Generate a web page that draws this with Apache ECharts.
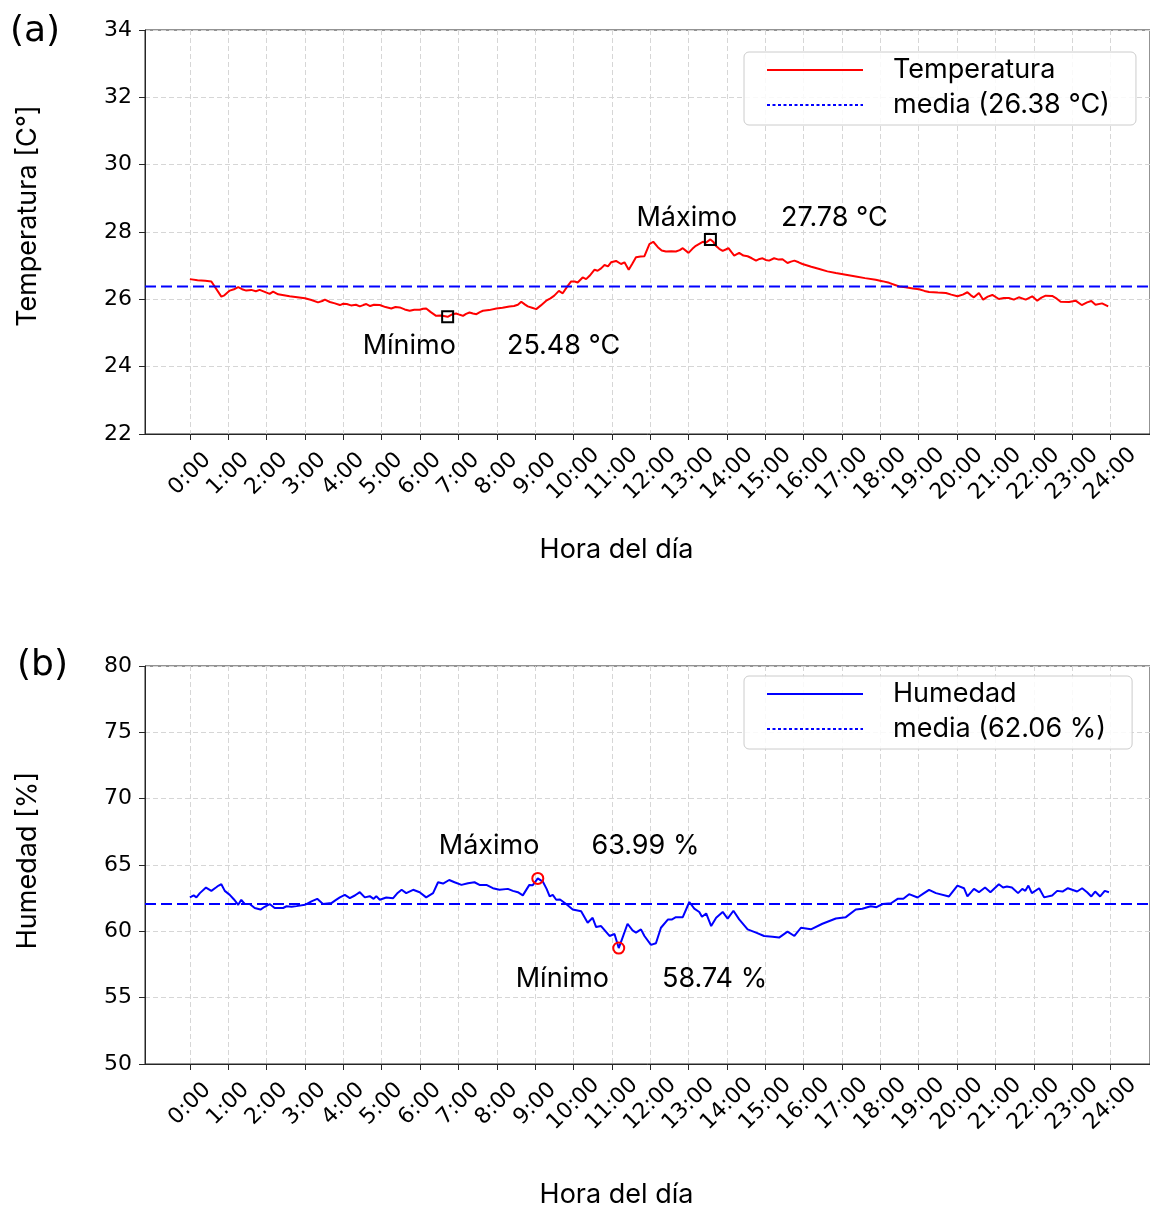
<!DOCTYPE html>
<html>
<head>
<meta charset="utf-8">
<script src="https://cdn.jsdelivr.net/npm/echarts@6/dist/echarts.min.js"></script>
<style>
  html, body { margin: 0; padding: 0; background: #ffffff; }
  #chart { width: 1150px; height: 1209px; }
</style>
</head>
<body>
<div id="chart"></div>
<script>
// Temperature log over one day (hour of day, °C)
const tempHours = [
  0.00, 0.20, 0.40, 0.56, 0.82, 0.90, 1.04, 1.15, 1.26, 1.36, 1.47, 1.60, 1.72, 1.82, 1.95,
  2.08, 2.17, 2.30, 2.45, 2.60, 2.80, 3.00, 3.17, 3.34, 3.45, 3.52, 3.65, 3.78, 3.91, 4.00,
  4.09, 4.20, 4.33, 4.43, 4.52, 4.60, 4.70, 4.80, 4.95, 5.10, 5.25, 5.36, 5.47, 5.60, 5.73,
  5.85, 5.99, 6.08, 6.16, 6.28, 6.42, 6.55, 6.72, 6.85, 6.94, 7.04, 7.12, 7.20, 7.29, 7.38,
  7.47, 7.56, 7.64, 7.80, 7.99, 8.15, 8.33, 8.45, 8.55, 8.64, 8.73, 8.81, 8.92, 9.03, 9.15,
  9.29, 9.40, 9.50, 9.62, 9.72, 9.85, 9.94, 10.03, 10.11, 10.24, 10.33, 10.42, 10.55, 10.63, 10.72,
  10.81, 10.90, 10.98, 11.11, 11.24, 11.33, 11.44, 11.53, 11.63, 11.75, 11.85, 11.98, 12.08, 12.20, 12.30,
  12.41, 12.55, 12.67, 12.77, 12.85, 13.00, 13.10, 13.19, 13.28, 13.37, 13.45, 13.57, 13.65, 13.71, 13.80,
  13.89, 13.97, 14.04, 14.12, 14.19, 14.32, 14.43, 14.54, 14.65, 14.76, 14.85, 14.93, 15.01, 15.10, 15.23,
  15.35, 15.45, 15.58, 15.67, 15.76, 15.87, 15.97, 16.20, 16.41, 16.62, 16.84, 17.10, 17.36, 17.60, 17.88,
  18.05, 18.23, 18.40, 18.49, 18.66, 18.85, 19.01, 19.15, 19.27, 19.50, 19.71, 19.85, 20.01, 20.15, 20.27,
  20.36, 20.44, 20.57, 20.68, 20.80, 20.92, 21.09, 21.22, 21.35, 21.48, 21.61, 21.79, 21.96, 22.09, 22.20,
  22.31, 22.48, 22.60, 22.70, 22.92, 23.09, 23.25, 23.39, 23.50, 23.61, 23.78, 23.94
];
const tempValues = [
  26.60, 26.57, 26.55, 26.53, 26.08, 26.12, 26.26, 26.30, 26.36, 26.30, 26.26, 26.28, 26.24, 26.28, 26.22,
  26.16, 26.23, 26.15, 26.12, 26.09, 26.06, 26.03, 25.98, 25.91, 25.95, 25.99, 25.92, 25.88, 25.83, 25.87,
  25.86, 25.82, 25.84, 25.79, 25.83, 25.86, 25.80, 25.84, 25.83, 25.77, 25.73, 25.77, 25.76, 25.70, 25.66,
  25.69, 25.69, 25.72, 25.73, 25.62, 25.51, 25.52, 25.48, 25.56, 25.58, 25.54, 25.51, 25.57, 25.61, 25.58,
  25.56, 25.62, 25.66, 25.68, 25.73, 25.75, 25.79, 25.80, 25.84, 25.93, 25.85, 25.79, 25.75, 25.71, 25.82,
  25.96, 26.03, 26.11, 26.25, 26.18, 26.40, 26.53, 26.53, 26.50, 26.65, 26.60, 26.70, 26.88, 26.85, 26.92,
  27.02, 26.98, 27.10, 27.14, 27.05, 27.10, 26.88, 27.05, 27.25, 27.27, 27.28, 27.64, 27.71, 27.55, 27.45,
  27.42, 27.43, 27.42, 27.46, 27.52, 27.38, 27.50, 27.59, 27.65, 27.71, 27.68, 27.78, 27.70, 27.59, 27.50,
  27.44, 27.48, 27.52, 27.40, 27.30, 27.38, 27.30, 27.28, 27.22, 27.15, 27.20, 27.22, 27.17, 27.15, 27.22,
  27.18, 27.19, 27.08, 27.12, 27.15, 27.10, 27.05, 26.97, 26.90, 26.83, 26.78, 26.73, 26.68, 26.63, 26.58,
  26.54, 26.49, 26.42, 26.38, 26.36, 26.32, 26.30, 26.25, 26.22, 26.20, 26.19, 26.14, 26.09, 26.14, 26.21,
  26.12, 26.06, 26.19, 25.99, 26.08, 26.13, 26.01, 26.04, 26.04, 25.99, 26.06, 25.99, 26.09, 25.96, 26.05,
  26.11, 26.10, 26.02, 25.93, 25.92, 25.96, 25.83, 25.91, 25.95, 25.84, 25.88, 25.79
];

// Relative humidity over the same day (hour of day, %)
const humHours = [
  0.00, 0.10, 0.17, 0.26, 0.42, 0.56, 0.68, 0.75, 0.82, 0.91, 1.04, 1.15, 1.26, 1.34, 1.43,
  1.56, 1.69, 1.84, 1.95, 2.08, 2.21, 2.43, 2.52, 2.65, 2.78, 3.00, 3.17, 3.32, 3.47, 3.69,
  3.80, 3.91, 4.04, 4.17, 4.30, 4.43, 4.56, 4.69, 4.79, 4.86, 4.95, 5.12, 5.30, 5.40, 5.52,
  5.64, 5.82, 5.99, 6.16, 6.34, 6.47, 6.60, 6.76, 6.90, 7.08, 7.25, 7.42, 7.55, 7.73, 7.90,
  8.07, 8.29, 8.42, 8.55, 8.68, 8.85, 8.94, 9.07, 9.20, 9.30, 9.38, 9.46, 9.55, 9.65, 9.81,
  9.98, 10.20, 10.37, 10.50, 10.59, 10.72, 10.94, 11.07, 11.18, 11.28, 11.41, 11.54, 11.63, 11.76, 11.85,
  12.02, 12.15, 12.28, 12.46, 12.56, 12.67, 12.85, 13.02, 13.15, 13.28, 13.35, 13.46, 13.59, 13.72, 13.89,
  14.02, 14.17, 14.32, 14.54, 14.76, 14.97, 15.19, 15.36, 15.58, 15.76, 15.93, 16.19, 16.49, 16.84, 17.10,
  17.36, 17.53, 17.75, 17.90, 18.06, 18.28, 18.45, 18.60, 18.75, 18.97, 19.10, 19.27, 19.45, 19.79, 20.01,
  20.18, 20.27, 20.44, 20.57, 20.73, 20.87, 21.09, 21.20, 21.30, 21.43, 21.59, 21.70, 21.78, 21.86, 21.95,
  22.14, 22.27, 22.48, 22.61, 22.75, 22.89, 23.13, 23.26, 23.39, 23.50, 23.60, 23.73, 23.85, 23.96
];
const humValues = [
  62.56, 62.71, 62.56, 62.88, 63.30, 63.05, 63.30, 63.45, 63.55, 63.05, 62.75, 62.40, 62.00, 62.38, 62.06,
  62.06, 61.76, 61.64, 61.85, 62.06, 61.76, 61.76, 61.89, 61.85, 61.90, 62.00, 62.26, 62.45, 62.06, 62.13,
  62.35, 62.56, 62.75, 62.51, 62.70, 62.95, 62.56, 62.65, 62.45, 62.65, 62.38, 62.55, 62.50, 62.85, 63.13,
  62.88, 63.13, 62.95, 62.56, 62.88, 63.70, 63.60, 63.87, 63.70, 63.50, 63.63, 63.70, 63.50, 63.50, 63.25,
  63.13, 63.20, 63.05, 62.95, 62.71, 63.50, 63.48, 63.99, 63.75, 63.20, 62.63, 62.75, 62.38, 62.40, 62.06,
  61.64, 61.52, 60.65, 61.02, 60.32, 60.40, 59.65, 59.80, 58.74, 59.53, 60.57, 60.07, 59.90, 60.15, 59.65,
  58.98, 59.10, 60.27, 60.89, 60.89, 61.07, 61.07, 62.21, 61.71, 61.46, 61.10, 61.35, 60.40, 61.02, 61.46,
  60.96, 61.55, 60.90, 60.15, 59.90, 59.65, 59.60, 59.53, 59.98, 59.65, 60.27, 60.15, 60.57, 60.97, 61.07,
  61.64, 61.70, 61.89, 61.82, 62.06, 62.12, 62.45, 62.45, 62.80, 62.55, 62.80, 63.13, 62.88, 62.63, 63.45,
  63.25, 62.63, 63.20, 62.95, 63.30, 62.95, 63.55, 63.30, 63.38, 63.30, 62.88, 63.20, 63.05, 63.45, 62.88,
  63.25, 62.56, 62.70, 63.05, 63.00, 63.25, 63.00, 63.25, 62.95, 62.63, 63.00, 62.63, 63.05, 62.95
];

// Daily means shown in the legends
const tempMean = 26.38;
const humMean = 62.06;

// Hour ticks on the time axis
const hourTicks = [0, 1, 2, 3, 4, 5, 6, 7, 8, 9, 10, 11, 12, 13, 14, 15, 16, 17, 18, 19, 20, 21, 22, 23, 24];
const hourLabels = ['0:00', '1:00', '2:00', '3:00', '4:00', '5:00', '6:00', '7:00', '8:00', '9:00', '10:00', '11:00',
  '12:00', '13:00', '14:00', '15:00', '16:00', '17:00', '18:00', '19:00', '20:00', '21:00', '22:00', '23:00', '24:00'];

// Visible time range (hours), with padding on both sides of the day
const X_MIN = -1.17;
const X_MAX = 25.03;

const tickFont = 'DejaVu Sans';
const textFont = 'Inter';
const textSize = 27;
const spineColor = '#262626';

const tempSeriesData = tempHours.map((h, i) => [h, tempValues[i]]);
const humSeriesData = humHours.map((h, i) => [h, humValues[i]]);
const tempMeanName = 'media (' + tempMean.toFixed(2) + ' °C)';
const humMeanName = 'media (' + humMean.toFixed(2) + ' %)';

const gridLines = { show: true, lineStyle: { color: '#d6d6d6', type: [5, 3], width: 1 } };

function timeAxis(gridIndex, nameGap) {
  return {
    type: 'value', gridIndex: gridIndex, min: X_MIN, max: X_MAX,
    axisLine: { show: true, onZero: false, lineStyle: { color: spineColor, width: 1 } },
    axisTick: { show: true, length: 6, customValues: hourTicks, lineStyle: { color: spineColor, width: 1 } },
    axisLabel: {
      customValues: hourTicks,
      formatter: v => hourLabels[hourTicks.indexOf(v)],
      rotate: 45, align: 'center', verticalAlign: 'middle', margin: 40,
      fontFamily: tickFont, fontSize: 22, color: '#000'
    },
    splitLine: gridLines,
    name: 'Hora del día', nameLocation: 'middle', nameGap: nameGap,
    // right padding moves the title left of the axis centre
    nameTextStyle: { fontFamily: textFont, fontSize: textSize, color: '#000', padding: [0, 62, 0, 0] }
  };
}

function valueAxis(gridIndex, min, max, interval, name, lift) {
  return {
    type: 'value', gridIndex: gridIndex, min: min, max: max, interval: interval,
    axisLine: { show: true, onZero: false, lineStyle: { color: spineColor, width: 1 } },
    axisTick: { show: true, length: 6, lineStyle: { color: spineColor, width: 1 } },
    axisLabel: { fontFamily: tickFont, fontSize: 22, color: '#000', margin: 13 },
    splitLine: gridLines,
    name: name, nameLocation: 'middle', nameGap: 104,
    nameTextStyle: { fontFamily: textFont, fontSize: textSize, color: '#000', padding: [0, 0, 0, lift] }
  };
}

function extremeLabel(word, unit, offset, gap) {
  return {
    show: true, position: 'inside', align: 'left', verticalAlign: 'middle', offset: offset,
    formatter: p => '{a|' + word + '}{b|' + p.value.toFixed(2) + unit + '}',
    rich: {
      a: { fontFamily: textFont, fontSize: textSize, color: '#000' },
      b: { fontFamily: textFont, fontSize: textSize, color: '#000', padding: [0, 0, 0, gap] }
    }
  };
}

function legendBox(top, names) {
  return {
    data: names, orient: 'vertical', left: 744, top: top,
    itemWidth: 96, itemHeight: 14, itemGap: 5,
    padding: [3, 26, 5, 22],
    borderColor: '#cccccc', borderWidth: 1, borderRadius: 5,
    backgroundColor: 'rgba(255,255,255,0.85)',
    itemStyle: { opacity: 0, borderWidth: 0 },
    textStyle: { fontFamily: textFont, fontSize: textSize, color: '#000', lineHeight: 30, padding: [0, 0, 0, 25] },
    selectedMode: false
  };
}

const chart = echarts.init(document.getElementById('chart'), null, { renderer: 'canvas' });

chart.setOption({
  animation: false,
  backgroundColor: '#ffffff',
  title: [
    { text: '(a)', left: 10, top: 14, padding: 0, textStyle: { fontFamily: tickFont, fontSize: 36, fontWeight: 'normal', color: '#000' } },
    { text: '(b)', left: 17, top: 648, padding: 0, textStyle: { fontFamily: tickFont, fontSize: 36, fontWeight: 'normal', color: '#000' } }
  ],
  legend: [
    legendBox(52, [{ name: 'Temperatura' }, { name: tempMeanName, lineStyle: { type: [3, 2.5] } }]),
    legendBox(676, [{ name: 'Humedad' }, { name: humMeanName, lineStyle: { type: [3, 2.5] } }])
  ],
  grid: [
    { left: 145, top: 30, width: 1006, height: 404, show: true, borderColor: spineColor, borderWidth: 1, backgroundColor: 'transparent' },
    { left: 145, top: 666, width: 1006, height: 401, show: true, borderColor: spineColor, borderWidth: 1, backgroundColor: 'transparent' }
  ],
  xAxis: [timeAxis(0, 102), timeAxis(1, 117)],
  yAxis: [
    valueAxis(0, 22, 34, 2, 'Temperatura [C°]', 32),
    valueAxis(1, 50, 80, 5, 'Humedad [%]', 9)
  ],
  series: [
    {
      name: 'Temperatura', type: 'line', xAxisIndex: 0, yAxisIndex: 0,
      data: tempSeriesData, symbol: 'none', z: 3,
      lineStyle: { color: '#ff0000', width: 2 }, itemStyle: { color: '#ff0000' },
      emphasis: { disabled: true },
      markPoint: {
        symbol: 'rect', symbolSize: 11, silent: true,
        itemStyle: { color: 'rgba(0,0,0,0)', borderColor: '#000', borderWidth: 2 },
        data: [
          { type: 'max', valueIndex: 1, label: extremeLabel('Máximo', ' °C', [-74, -22], 44) },
          { type: 'min', valueIndex: 1, label: extremeLabel('Mínimo', ' °C', [-85, 29], 51) }
        ]
      }
    },
    {
      name: tempMeanName, type: 'line', xAxisIndex: 0, yAxisIndex: 0,
      data: [[X_MIN, tempMean], [X_MAX, tempMean]], symbol: 'none', z: 4,
      lineStyle: { color: '#0000ff', width: 2, type: [11, 5] }, itemStyle: { color: '#0000ff' },
      emphasis: { disabled: true }
    },
    {
      name: 'Humedad', type: 'line', xAxisIndex: 1, yAxisIndex: 1,
      data: humSeriesData, symbol: 'none', z: 3,
      lineStyle: { color: '#0000ff', width: 2 }, itemStyle: { color: '#0000ff' },
      emphasis: { disabled: true },
      markPoint: {
        symbol: 'circle', symbolSize: 11, silent: true,
        itemStyle: { color: 'rgba(0,0,0,0)', borderColor: '#ff0000', borderWidth: 2 },
        data: [
          { type: 'max', valueIndex: 1, label: extremeLabel('Máximo', ' %', [-99, -33], 52) },
          { type: 'min', valueIndex: 1, label: extremeLabel('Mínimo', ' %', [-103, 31], 53) }
        ]
      }
    },
    {
      name: humMeanName, type: 'line', xAxisIndex: 1, yAxisIndex: 1,
      data: [[X_MIN, humMean], [X_MAX, humMean]], symbol: 'none', z: 4,
      lineStyle: { color: '#0000ff', width: 2, type: [11, 5] }, itemStyle: { color: '#0000ff' },
      emphasis: { disabled: true }
    }
  ]
});
</script>
</body>
</html>
